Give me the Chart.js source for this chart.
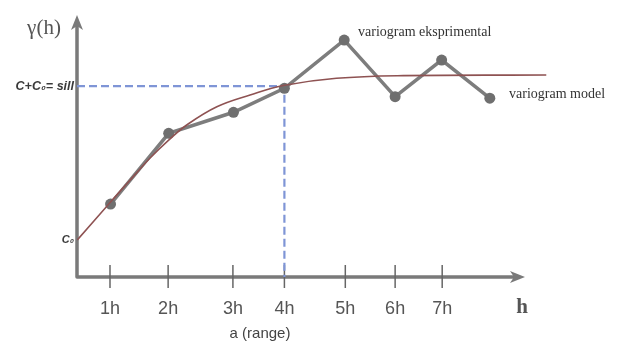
<!DOCTYPE html>
<html>
<head>
<meta charset="utf-8">
<script src="https://cdn.jsdelivr.net/npm/chart.js@4/dist/chart.umd.min.js"></script>
<style>
html,body{margin:0;padding:0;background:#ffffff;}
#wrap{width:619px;height:344px;position:relative;}
</style>
</head>
<body>
<div id="wrap"><canvas id="c" width="619" height="344"></canvas></div>
<script>
// ---- data ----
const tickLags   = [1, 2.05, 3.22, 4.15, 5.25, 6.15, 7];
const tickLabels = ['1h', '2h', '3h', '4h', '5h', '6h', '7h'];
const expLags    = [1.01, 2.06, 3.23, 4.15, 5.23, 6.15, 6.99, 7.86];
const expGamma   = [3.84, 7.56, 8.67, 9.93, 12.47, 9.49, 11.42, 9.41];
const modelLags  = [0.41, 1.01, 1.48, 1.72, 2.06, 2.385, 2.93, 3.53, 4.13, 5.09, 6.30, 8.88];
const modelGamma = [1.95, 3.95, 5.48, 6.25, 7.2, 8.0, 8.96, 9.58, 10.08, 10.46, 10.6, 10.63];
const nugget = 1.95;
const sill = 10.05;
const range = 4.15;
const yTickVals = [nugget, sill];
const yTickLabels = ['C\u2080', 'C+C\u2080= sill'];
const xMin = 0.404, xMax = 9.2, yMin = 0, yMax = 13.79;

const toXY = (xs, ys) => xs.map((x, i) => ({x: x, y: ys[i]}));

const axisPlugin = {
  id: 'axisPlugin',
  beforeDatasetsDraw(chart) {
    const {ctx, scales: {x, y}} = chart;
    const x0 = x.getPixelForValue(xMin);
    const y0 = y.getPixelForValue(0);
    const yTop = y.getPixelForValue(yMax);
    const xEnd = 525;
    ctx.save();
    ctx.strokeStyle = '#7a7a7a';
    ctx.fillStyle = '#7a7a7a';
    ctx.lineWidth = 3.5;
    ctx.lineJoin = 'round';
    ctx.beginPath();
    ctx.moveTo(x0, yTop + 10);
    ctx.lineTo(x0, y0);
    ctx.lineTo(xEnd - 10, y0);
    ctx.stroke();
    ctx.beginPath();
    ctx.moveTo(x0, yTop);
    ctx.lineTo(x0 - 6, yTop + 15);
    ctx.lineTo(x0, yTop + 11);
    ctx.lineTo(x0 + 6, yTop + 15);
    ctx.closePath();
    ctx.fill();
    ctx.beginPath();
    ctx.moveTo(xEnd, y0);
    ctx.lineTo(xEnd - 15, y0 - 6);
    ctx.lineTo(xEnd - 11, y0);
    ctx.lineTo(xEnd - 15, y0 + 6);
    ctx.closePath();
    ctx.fill();
    ctx.strokeStyle = '#666';
    ctx.lineWidth = 1.5;
    tickLags.forEach(v => {
      const px = x.getPixelForValue(v);
      ctx.beginPath();
      ctx.moveTo(px, y0 - 12);
      ctx.lineTo(px, y0 + 11);
      ctx.stroke();
    });
    ctx.restore();
  },
  afterDraw(chart) {
    const {ctx} = chart;
    ctx.save();
    ctx.textAlign = 'center';
    ctx.textBaseline = 'middle';
    ctx.fillStyle = '#555';
    ctx.font = '21px "Liberation Serif", "DejaVu Serif", serif';
    ctx.fillText('\u03B3(h)', 44, 28);
    ctx.font = 'bold 21px "Liberation Serif", "DejaVu Serif", serif';
    ctx.fillText('h', 522, 308);
    ctx.fillStyle = '#444';
    ctx.font = '15px "Liberation Sans", Arial, sans-serif';
    ctx.fillText('a (range)', 260, 334);
    ctx.fillStyle = '#333';
    ctx.textAlign = 'left';
    ctx.font = '14px "Liberation Serif", "DejaVu Serif", serif';
    ctx.fillText('variogram eksprimental', 358, 32);
    ctx.fillText('variogram model', 509, 94);
    ctx.restore();
  }
};

new Chart(document.getElementById('c'), {
  type: 'line',
  data: {
    datasets: [
      {
        label: 'sill/range',
        data: [{x: xMin, y: sill}, {x: range, y: sill}, {x: range, y: 0}],
        borderColor: '#7f95d6',
        borderWidth: 2.2,
        borderDash: [8, 4],
        pointRadius: 0,
        fill: false,
        tension: 0,
        order: 3
      },
      {
        label: 'variogram model',
        data: toXY(modelLags, modelGamma),
        borderColor: '#8e5252',
        borderWidth: 1.6,
        pointRadius: 0,
        fill: false,
        tension: 0.4,
        order: 1
      },
      {
        label: 'variogram eksprimental',
        data: toXY(expLags, expGamma),
        borderColor: '#7d7d7d',
        borderWidth: 3.5,
        pointRadius: 5.5,
        pointBackgroundColor: '#6f6f6f',
        pointBorderColor: '#6f6f6f',
        pointBorderWidth: 0,
        fill: false,
        tension: 0,
        order: 2
      }
    ]
  },
  options: {
    responsive: false,
    animation: false,
    devicePixelRatio: 1,
    layout: {padding: {top: 15, right: 55, left: 0, bottom: 0}},
    plugins: {legend: {display: false}, tooltip: {enabled: false}},
    scales: {
      x: {
        type: 'linear',
        min: xMin,
        max: xMax,
        afterBuildTicks: (s) => { s.ticks = tickLags.map(v => ({value: v})); },
        afterFit: (s) => { s.height = 67; },
        grid: {display: false, drawTicks: false},
        border: {display: false},
        ticks: {
          autoSkip: false,
          maxRotation: 0,
          padding: 21,
          color: '#555',
          font: {family: '"Liberation Sans", Arial, sans-serif', size: 18},
          callback: (v, i) => tickLabels[i]
        }
      },
      y: {
        type: 'linear',
        min: yMin,
        max: yMax,
        afterBuildTicks: (s) => { s.ticks = yTickVals.map(v => ({value: v})); },
        afterFit: (s) => { s.width = 77; },
        grid: {display: false, drawTicks: false},
        border: {display: false},
        ticks: {
          autoSkip: false,
          padding: 3,
          color: '#3a3a3a',
          font: (ctx) => ({family: '"Liberation Sans", Arial, sans-serif', size: ctx.index === 0 ? 11 : 12.5, style: 'italic', weight: 'bold'}),
          callback: (v, i) => yTickLabels[i]
        }
      }
    }
  },
  plugins: [axisPlugin]
});
</script>
</body>
</html>
